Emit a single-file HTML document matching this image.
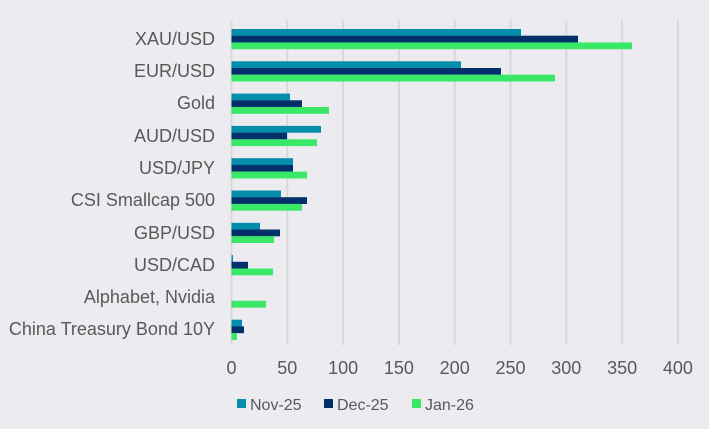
<!DOCTYPE html>
<html><head><style>
body{margin:0;background:#ebebf0;}
svg{display:block;font-family:"Liberation Sans",sans-serif;}
</style></head><body>
<svg width="709" height="429" xmlns="http://www.w3.org/2000/svg">
<rect width="709" height="429" fill="#ebebf0"/>
<g stroke="#d9d9d9" stroke-width="2">
<line x1="231.5" y1="20" x2="231.5" y2="345"/>
<line x1="287.3" y1="20" x2="287.3" y2="345"/>
<line x1="343.1" y1="20" x2="343.1" y2="345"/>
<line x1="398.9" y1="20" x2="398.9" y2="345"/>
<line x1="454.7" y1="20" x2="454.7" y2="345"/>
<line x1="510.5" y1="20" x2="510.5" y2="345"/>
<line x1="566.3" y1="20" x2="566.3" y2="345"/>
<line x1="622.1" y1="20" x2="622.1" y2="345"/>
<line x1="677.9" y1="20" x2="677.9" y2="345"/>
</g>
<g>
<rect x="231.5" y="29" width="289.5" height="6.8" fill="#058dac"/>
<rect x="231.5" y="35.7" width="346.5" height="6.8" fill="#02306b"/>
<rect x="231.5" y="42.4" width="400.5" height="6.8" fill="#38e866"/>
<rect x="231.5" y="61.3" width="229.5" height="6.8" fill="#058dac"/>
<rect x="231.5" y="68" width="269.5" height="6.8" fill="#02306b"/>
<rect x="231.5" y="74.7" width="323.5" height="6.8" fill="#38e866"/>
<rect x="231.5" y="93.6" width="58.5" height="6.8" fill="#058dac"/>
<rect x="231.5" y="100.3" width="70.5" height="6.8" fill="#02306b"/>
<rect x="231.5" y="107" width="97.5" height="6.8" fill="#38e866"/>
<rect x="231.5" y="125.9" width="89.5" height="6.8" fill="#058dac"/>
<rect x="231.5" y="132.6" width="55.5" height="6.8" fill="#02306b"/>
<rect x="231.5" y="139.3" width="85.5" height="6.8" fill="#38e866"/>
<rect x="231.5" y="158.2" width="61.5" height="6.8" fill="#058dac"/>
<rect x="231.5" y="164.9" width="61.5" height="6.8" fill="#02306b"/>
<rect x="231.5" y="171.6" width="75.5" height="6.8" fill="#38e866"/>
<rect x="231.5" y="190.5" width="49.5" height="6.8" fill="#058dac"/>
<rect x="231.5" y="197.2" width="75.5" height="6.8" fill="#02306b"/>
<rect x="231.5" y="203.9" width="70.5" height="6.8" fill="#38e866"/>
<rect x="231.5" y="222.8" width="28.5" height="6.8" fill="#058dac"/>
<rect x="231.5" y="229.5" width="48.5" height="6.8" fill="#02306b"/>
<rect x="231.5" y="236.2" width="42.5" height="6.8" fill="#38e866"/>
<rect x="231.5" y="255.1" width="1.5" height="6.8" fill="#058dac"/>
<rect x="231.5" y="261.8" width="16.5" height="6.8" fill="#02306b"/>
<rect x="231.5" y="268.5" width="41.5" height="6.8" fill="#38e866"/>
<rect x="231.5" y="300.8" width="34.5" height="6.8" fill="#38e866"/>
<rect x="231.5" y="319.7" width="10.5" height="6.8" fill="#058dac"/>
<rect x="231.5" y="326.4" width="12.5" height="6.8" fill="#02306b"/>
<rect x="231.5" y="333.1" width="5.5" height="6.8" fill="#38e866"/>
</g>
<g fill="#595959" font-size="18" text-anchor="end">
<text x="215" y="45">XAU/USD</text>
<text x="215" y="77">EUR/USD</text>
<text x="215" y="109">Gold</text>
<text x="215" y="142">AUD/USD</text>
<text x="215" y="174">USD/JPY</text>
<text x="215" y="206">CSI Smallcap 500</text>
<text x="215" y="239">GBP/USD</text>
<text x="215" y="271">USD/CAD</text>
<text x="215" y="303">Alphabet, Nvidia</text>
<text x="215" y="335">China Treasury Bond 10Y</text>
</g>
<g fill="#595959" font-size="18" text-anchor="middle">
<text x="231.5" y="374">0</text><text x="287.3" y="374">50</text><text x="343.1" y="374">100</text>
<text x="398.9" y="374">150</text><text x="454.7" y="374">200</text><text x="510.5" y="374">250</text>
<text x="566.3" y="374">300</text><text x="622.1" y="374">350</text><text x="677.9" y="374">400</text>
</g>
<rect x="237" y="399" width="9" height="9" fill="#058dac"/>
<text x="250" y="410" fill="#595959" font-size="16">Nov-25</text>
<rect x="324" y="399" width="9" height="9" fill="#02306b"/>
<text x="337" y="410" fill="#595959" font-size="16">Dec-25</text>
<rect x="412" y="399" width="9" height="9" fill="#38e866"/>
<text x="425" y="410" fill="#595959" font-size="16">Jan-26</text>
</svg>
</body></html>
